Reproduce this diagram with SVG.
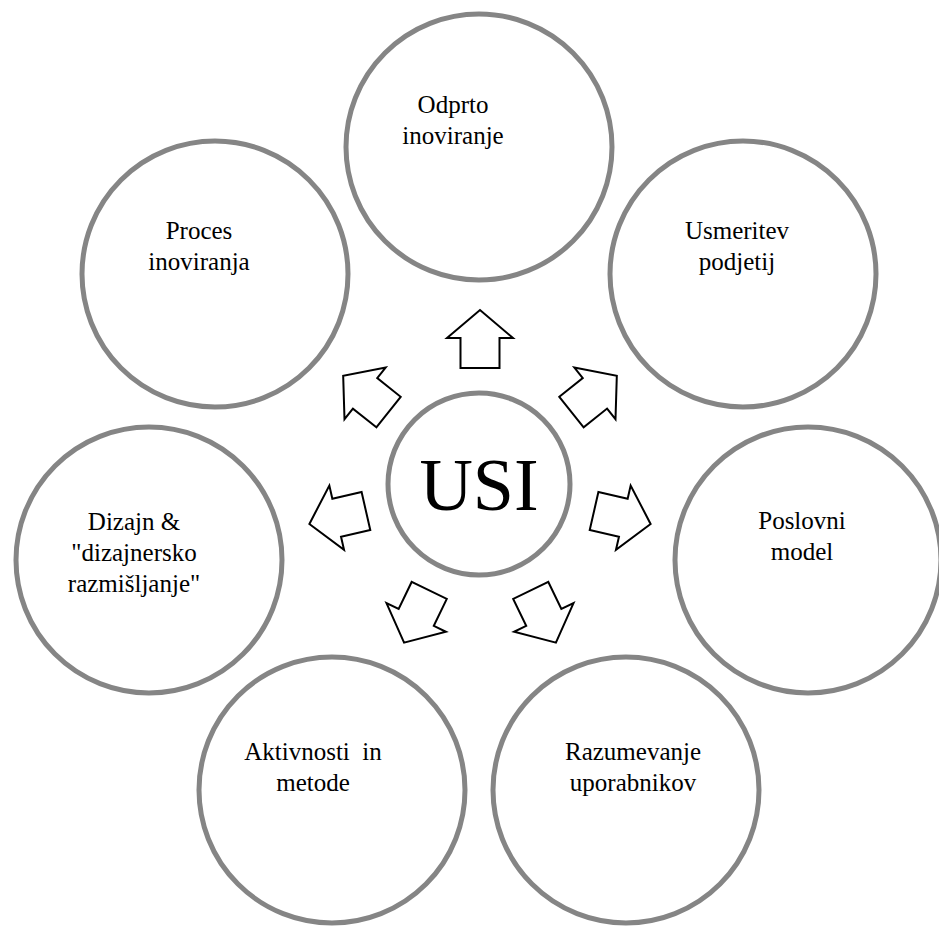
<svg xmlns="http://www.w3.org/2000/svg" width="939" height="926" viewBox="0 0 939 926">
<defs>
<style>
.c{fill:#ffffff;stroke:#858585;stroke-width:5}
.a{fill:#ffffff;stroke:#000000;stroke-width:2;stroke-linejoin:miter}
.t{font-family:"Liberation Serif","Times New Roman",serif;font-size:25px;fill:#000000;text-anchor:middle;white-space:pre}
.u{font-family:"Liberation Serif","Times New Roman",serif;font-size:74px;fill:#000000;text-anchor:middle}
</style>
<path id="arr" d="M -19.5,-117 L -19.5,-147 L -33,-147 L 0,-175 L 33,-147 L 19.5,-147 L 19.5,-117 Z"/>
</defs>
<rect width="939" height="926" fill="#ffffff"/>
<g id="node-odprto">
<circle class="c" cx="479" cy="147" r="133"/>
<text class="t" x="453" y="113">Odprto</text>
<text class="t" x="453" y="144">inoviranje</text>
</g>
<g id="node-usmeritev">
<circle class="c" cx="743" cy="274" r="133"/>
<text class="t" x="737" y="239">Usmeritev</text>
<text class="t" x="737" y="270">podjetij</text>
</g>
<g id="node-poslovni">
<circle class="c" cx="808" cy="560" r="133"/>
<text class="t" x="802" y="529">Poslovni</text>
<text class="t" x="802" y="560">model</text>
</g>
<g id="node-razumevanje">
<circle class="c" cx="626" cy="790" r="133"/>
<text class="t" x="633" y="760">Razumevanje</text>
<text class="t" x="633" y="791">uporabnikov</text>
</g>
<g id="node-aktivnosti">
<circle class="c" cx="332" cy="790" r="133"/>
<text class="t" x="313" y="760">Aktivnosti  in</text>
<text class="t" x="313" y="791">metode</text>
</g>
<g id="node-dizajn">
<circle class="c" cx="149" cy="560" r="133"/>
<text class="t" x="134" y="530">Dizajn &amp;</text>
<text class="t" x="134" y="561">"dizajnersko</text>
<text class="t" x="134" y="592">razmišljanje"</text>
</g>
<g id="node-proces">
<circle class="c" cx="215" cy="274" r="133"/>
<text class="t" x="199" y="239">Proces</text>
<text class="t" x="199" y="270">inoviranja</text>
</g>
<g id="node-usi">
<circle class="c" cx="479" cy="484" r="91"/>
<text class="u" x="479" y="510">USI</text>
</g>
<g id="connectors">
<use href="#arr" class="a" transform="translate(480,485) rotate(0)"/>
<use href="#arr" class="a" transform="translate(480,485) rotate(51.4286)"/>
<use href="#arr" class="a" transform="translate(480,485) rotate(102.857)"/>
<use href="#arr" class="a" transform="translate(480,485) rotate(154.286)"/>
<use href="#arr" class="a" transform="translate(480,485) rotate(205.714)"/>
<use href="#arr" class="a" transform="translate(480,485) rotate(257.143)"/>
<use href="#arr" class="a" transform="translate(480,485) rotate(308.571)"/>
</g>
</svg>
